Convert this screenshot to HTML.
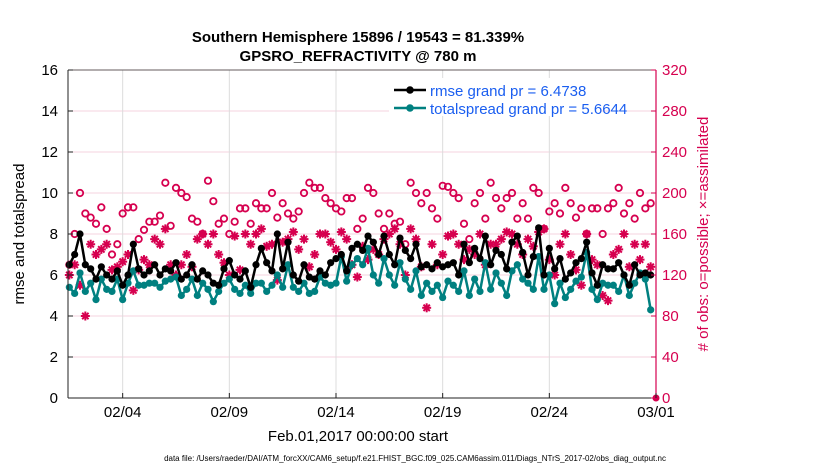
<!DOCTYPE html>
<html><head><meta charset="utf-8"><style>
html,body{margin:0;padding:0;background:#fff;}
svg{display:block;font-family:"Liberation Sans",sans-serif;}
</style></head><body>
<svg id="chart" width="830" height="470" viewBox="0 0 830 470">
  <rect x="0" y="0" width="830" height="470" fill="#fff"/>
  <text x="358" y="42" text-anchor="middle" font-size="15" font-weight="bold">Southern Hemisphere 15896 / 19543 = 81.339%</text>
  <text x="358" y="61" text-anchor="middle" font-size="15" font-weight="bold">GPSRO_REFRACTIVITY @ 780 m</text>
  <g id="grid"></g>
  <g id="series"></g>
  <g id="axes"></g>
  <text x="24" y="234" text-anchor="middle" font-size="15" transform="rotate(-90 24 234)">rmse and totalspread</text>
  <text x="708" y="234" text-anchor="middle" font-size="15" fill="#d6004f" transform="rotate(-90 708 234)"># of obs: o=possible; ×=assimilated</text>
  <text x="358" y="441" text-anchor="middle" font-size="15">Feb.01,2017 00:00:00 start</text>
  <text x="415" y="461" text-anchor="middle" font-size="8">data file: /Users/raeder/DAI/ATM_forcXX/CAM6_setup/f.e21.FHIST_BGC.f09_025.CAM6assim.011/Diags_NTrS_2017-02/obs_diag_output.nc</text>
  <g>
    <rect x="389" y="78" width="212" height="38" fill="#fff"/>
    <line x1="394" y1="90" x2="426" y2="90" stroke="#000" stroke-width="2.5"/>
    <circle cx="410" cy="90" r="3.8" fill="#000"/>
    <text x="430" y="96" font-size="15" fill="#1a5ef0">rmse grand pr = 6.4738</text>
    <line x1="394" y1="108" x2="426" y2="108" stroke="#008080" stroke-width="2.5"/>
    <circle cx="410" cy="108" r="3.8" fill="#008080"/>
    <text x="430" y="114" font-size="15" fill="#1a5ef0">totalspread grand pr = 5.6644</text>
  </g>
</svg>
<script>
const leftTicks=[0,2,4,6,8,10,12,14,16];
const rightTicks=[0,40,80,120,160,200,240,280,320];
const xTickDays=[3,8,13,18,23,28];
const xTickLabels=["02/04","02/09","02/14","02/19","02/24","03/01"];
const rmse=[6.5,7.0,
8.0,6.5,6.3,5.8, 6.4,6.0,5.8,6.2, 5.5,6.0,7.5,6.3, 6.0,6.2,6.5,6.0, 6.3,6.2,6.6,5.8,
6.0,6.5,5.8,6.2, 6.0,5.6,5.5,6.3, 6.7,6.0,5.8,6.2, 5.4,6.5,7.3,6.6, 6.2,8.0,6.3,7.6,
6.0,5.7,6.5,5.9, 5.8,6.2,6.0,6.6, 6.8,7.0,6.2,7.3, 7.5,7.2,7.9,7.6, 7.0,7.9,7.0,6.5,
7.8,7.2,6.8,7.5, 6.4,6.5,6.3,6.6, 6.4,6.5,6.6,6.0, 7.5,6.6,7.3,6.8, 7.9,6.5,7.2,7.0,
6.3,7.6,7.9,7.1, 6.0,6.9,8.3,6.0, 7.3,6.3,6.8,5.8, 6.1,6.6,6.8,7.6, 6.1,5.5,6.5,6.3,
6.3,6.6,6.0,5.5, 6.5,6.0,6.1,6.0];
const spread=[5.4,5.1,
6.1,5.2,5.6,4.8, 5.8,5.3,5.2,5.8, 4.8,5.6,6.2,5.5, 5.5,5.6,5.6,5.4, 5.7,5.8,5.9,5.0,
5.3,5.8,5.0,5.6, 5.3,4.7,5.2,5.6, 5.8,5.3,5.1,5.5, 5.1,5.6,5.6,5.2, 5.5,6.0,5.4,6.5,
5.4,5.2,5.6,5.1, 5.2,5.9,5.6,5.5, 5.6,6.9,5.7,6.5, 6.8,6.5,7.3,6.0, 5.6,6.8,6.0,5.5,
6.6,5.8,5.3,6.2, 5.0,5.6,5.2,5.5, 4.9,5.7,5.5,5.2, 6.2,5.0,5.8,5.2, 6.6,5.3,6.1,5.6,
5.0,6.2,6.5,5.8, 5.6,5.3,6.9,5.3, 6.0,4.6,5.6,4.9, 5.3,5.7,5.9,7.1, 5.3,4.8,5.6,5.5,
5.5,5.2,6.0,5.0, 5.6,6.1,5.8,4.3];
const possible=[130,160,
200,180,176,170, 186,165,140,150, 180,186,186,155, 164,172,172,178, 210,168,205,200,
196,175,172,160, 212,192,170,175, 160,172,185,185, 170,190,185,185, 200,176,190,180,
175,182,200,210, 205,205,195,190, 185,182,195,195, 165,175,205,200, 180,165,180,170,
172,150,210,200, 190,200,185,175, 207,206,200,195, 170,155,190,200, 175,210,195,185,
195,200,175,190, 175,205,200,165, 182,190,180,205, 190,176,185,160, 185,185,160,185,
190,205,180,190, 175,200,185,190];
const assimilated=[120,130,
110,80,150,140, 145,150,125,128, 133,140,105,125, 135,130,155,150, 165,130,120,130,
140,128,155,160, 150,160,140,132, 120,158,125,160, 150,160,165,148, 150,115,152,155,
162,145,155,128, 140,160,160,152, 145,162,155,130, 118,148,135,145, 140,155,160,165,
150,120,165,155, 128,88,150,130, 140,158,160,150, 135,145,140,160, 130,150,150,155,
162,160,150,140, 155,148,162,165, 135,120,150,160, 140,125,110,160, 135,130,100,95,
140,145,160,128, 150,135,150,128];
const t0=0.5, dt=0.25;

const NS="http://www.w3.org/2000/svg";
const X0=68,X1=656,Y0=398,Y1=70;
const D0=0.4375,D1=28;
function xs(d){return X0+(d-D0)/(D1-D0)*(X1-X0);}
function yl(v){return Y0-(v/16)*(Y0-Y1);}
function yr(v){return Y0-(v/320)*(Y0-Y1);}
function mk(tag,attrs,parent){const e=document.createElementNS(NS,tag);for(const k in attrs)e.setAttribute(k,attrs[k]);parent.appendChild(e);return e;}
const gridG=document.getElementById('grid'),axesG=document.getElementById('axes'),serG=document.getElementById('series');
const PINK="#d6004f";

rightTicks.forEach(v=>{
  const l=mk('line',{x1:X0,x2:X1,y1:yr(v),y2:yr(v),stroke:"#f5d3df","stroke-width":1},gridG);
  
  
});
xTickDays.forEach(d=>{
  const l=mk('line',{x1:xs(d),x2:xs(d),y1:Y1,y2:Y0,stroke:"#dcdcdc","stroke-width":1},gridG);
  
  
});

function tOf(i){return t0+i*dt;}
possible.forEach((v,i)=>{
  const c=mk('circle',{cx:xs(tOf(i)),cy:yr(v),r:3.2,fill:"none",stroke:PINK,"stroke-width":1.8},serG);
  
  
});
assimilated.forEach((v,i)=>{
  const cx=xs(tOf(i)),cy=yr(v),r=4.5;
  const g=mk('g',{stroke:PINK,"stroke-width":2},serG);
  
  
  for(let k=0;k<4;k++){const a=k*Math.PI/4;mk('line',{x1:cx-r*Math.cos(a),y1:cy-r*Math.sin(a),x2:cx+r*Math.cos(a),y2:cy+r*Math.sin(a)},g);}
});
function drawLine(arr,color,name){
  const pts=arr.map((v,i)=>xs(tOf(i)).toFixed(1)+","+yl(v).toFixed(1)).join(" ");
  const p=mk('polyline',{points:pts,fill:"none",stroke:color,"stroke-width":2.5,"stroke-linejoin":"round"},serG);
  
  
  arr.forEach((v,i)=>{
    const c=mk('circle',{cx:xs(tOf(i)),cy:yl(v),r:3.6,fill:color},serG);
    
    
  });
}
drawLine(spread,"#008080","totalspread");
drawLine(rmse,"#000000","rmse");
const endPt=mk('circle',{cx:X1,cy:Y0,r:3.5,fill:PINK},serG);



const topBorder=mk('line',{x1:X0,x2:X1,y1:Y1,y2:Y1,stroke:"#333","stroke-width":0.8},axesG);


const bot=mk('line',{x1:X0,x2:X1,y1:Y0,y2:Y0,stroke:"#222","stroke-width":1},axesG);


const la=mk('line',{x1:X0,x2:X0,y1:Y1,y2:Y0,stroke:"#222","stroke-width":1},axesG);


const ra=mk('line',{x1:X1,x2:X1,y1:Y1,y2:Y0,stroke:PINK,"stroke-width":1.2},axesG);


leftTicks.forEach(v=>{
  const y=yl(v);
  mk('line',{x1:X0,x2:X0+5,y1:y,y2:y,stroke:"#222"},axesG);
  const t=mk('text',{x:X0-10,y:y+5,"text-anchor":"end","font-size":15},axesG);
  t.textContent=v;
  
  
});
rightTicks.forEach(v=>{
  const y=yr(v);
  mk('line',{x1:X1-5,x2:X1,y1:y,y2:y,stroke:PINK},axesG);
  const t=mk('text',{x:X1+6,y:y+5,"text-anchor":"start","font-size":15,fill:PINK},axesG);
  t.textContent=v;
  
  
});
xTickDays.forEach((d,i)=>{
  const x=xs(d);
  mk('line',{x1:x,x2:x,y1:Y0,y2:Y0-5,stroke:"#222"},axesG);
  const t=mk('text',{x:x,y:Y0+19,"text-anchor":"middle","font-size":15},axesG);
  t.textContent=xTickLabels[i];
  
  
});
</script>
</body></html>
